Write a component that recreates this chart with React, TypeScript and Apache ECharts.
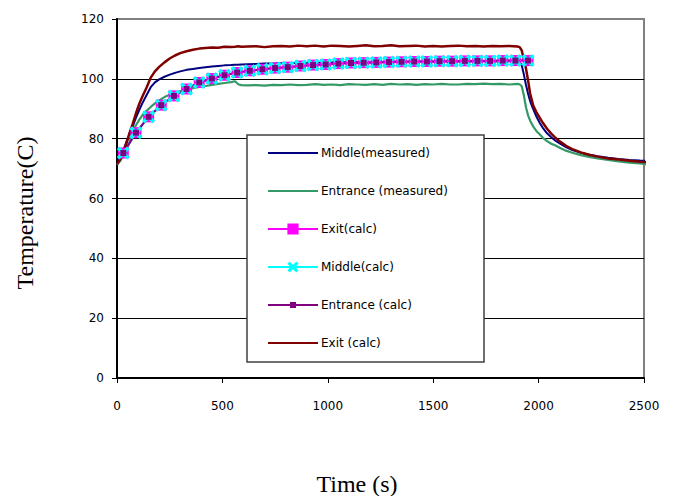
import React, { useEffect, useRef } from "react";
import * as echarts from "echarts";

// Sample times (s) of the measured traces
const measuredTimes = [
  0, 15, 30, 45, 60, 75, 90, 105, 120, 140, 160, 180, 200, 225, 250, 275, 300, 330, 360, 390,
  420, 450, 480, 510, 540, 560, 575, 590,
  620, 660, 700, 740, 780, 820, 860, 900, 940, 980, 1020, 1060, 1100, 1140, 1180, 1220, 1260,
  1300, 1340, 1380, 1420, 1460, 1500, 1540, 1580, 1620, 1660, 1700, 1740, 1780, 1820, 1860, 1900,
  1910, 1920, 1930, 1940, 1950, 1960, 1975, 1990, 2005, 2020, 2040, 2060, 2080, 2100, 2130, 2160,
  2200, 2240, 2280, 2330, 2380, 2430, 2480, 2535,
];

const middleMeasured = [
  72.0, 73.5, 76.0, 79.0, 81.5, 84.2, 87.0, 89.5, 91.8, 94.5, 97.2, 98.8, 99.8, 100.7, 101.4, 102.0,
  102.5, 103.0, 103.3, 103.6, 103.9, 104.1, 104.3, 104.5, 104.6, 104.7, 104.7, 104.8,
  104.9, 105.0, 105.1, 105.1, 105.2, 105.3, 105.3, 105.4, 105.4, 105.5, 105.5, 105.6, 105.5, 105.6,
  105.7, 105.6, 105.7, 105.7, 105.8, 105.7, 105.8, 105.8, 105.7, 105.8, 105.9, 105.8, 105.9, 105.8,
  105.9, 105.9, 105.8, 105.9, 105.9,
  105.6, 104.5, 101.5, 98.0, 95.0, 92.5, 89.8, 87.3, 85.3, 83.6, 81.8, 80.5, 79.3, 78.4, 77.2, 76.2,
  75.3, 74.6, 74.1, 73.6, 73.2, 72.9, 72.7, 72.5,
];

const entranceMeasured = [
  71.3, 72.5, 74.5, 76.7, 79.0, 82.5, 84.5, 86.3, 87.8, 89.3, 90.6, 91.8, 92.8, 93.9, 94.7, 95.3,
  95.8, 96.4, 96.9, 97.3, 97.6, 98.0, 98.3, 98.6, 98.9, 99.2, 98.2, 97.9,
  97.8, 97.9, 97.7, 98.0, 97.9, 98.1, 97.9, 98.0, 98.2, 98.0, 98.1, 97.9, 98.2, 98.1, 98.0, 98.2,
  98.0, 98.3, 98.1, 98.2, 98.0, 98.2, 98.1, 98.3, 98.1, 98.1, 98.3, 98.2, 98.4, 98.2, 98.3, 98.1,
  98.3,
  98.2, 97.5, 94.5, 90.5, 87.8, 86.0, 84.0, 82.5, 81.5, 80.3, 79.2, 78.3, 77.7, 77.0, 76.0, 75.3,
  74.5, 73.9, 73.4, 72.9, 72.4, 72.0, 71.7, 71.3,
];

const exitLine = [
  71.5, 73.0, 75.5, 78.5, 82.0, 85.0, 88.5, 91.5, 94.0, 97.0, 100.4, 102.5, 104.0, 105.5, 106.8,
  107.8, 108.6, 109.2, 109.7, 110.1, 110.3, 110.5, 110.4, 110.7, 110.6, 110.7, 110.9, 110.7,
  110.8, 110.9, 110.6, 110.9, 111.0, 110.8, 111.1, 110.9, 111.1, 110.8, 111.1, 111.0, 110.8, 111.0,
  111.2, 110.9, 111.0, 111.2, 110.9, 111.0, 111.1, 110.8, 111.0, 110.8, 111.0, 111.1, 110.9, 111.0,
  110.8, 111.0, 110.9, 111.0, 110.8,
  110.6, 109.5, 106.5, 103.5, 99.5, 95.0, 91.0, 88.8, 87.0, 85.3, 83.3, 81.7, 80.3, 79.1, 77.6, 76.5,
  75.4, 74.6, 74.0, 73.4, 73.0, 72.6, 72.3, 72.1,
];

// Calculated temperatures, one point per 60 s step
const calcTimes = [
  30, 90, 150, 210, 270, 330, 390, 450, 510, 570, 630, 690, 750, 810, 870, 930, 990, 1050, 1110,
  1170, 1230, 1290, 1350, 1410, 1470, 1530, 1590, 1650, 1710, 1770, 1830, 1890, 1950,
];

const exitCalc = [
  75.2, 82.0, 87.3, 91.2, 94.3, 96.6, 98.8, 100.1, 101.2, 102.1, 102.7, 103.2, 103.6, 103.9, 104.3,
  104.6, 104.8, 105.1, 105.3, 105.4, 105.5, 105.6, 105.7, 105.8, 105.8, 105.9, 105.9, 106.0, 106.0,
  106.0, 106.1, 106.1, 106.1,
];

const middleCalc = [
  75.2, 82.0, 87.3, 91.2, 94.3, 96.6, 98.8, 100.1, 101.2, 102.1, 102.7, 103.2, 103.6, 103.9, 104.3,
  104.6, 104.8, 105.1, 105.3, 105.4, 105.5, 105.6, 105.7, 105.8, 105.8, 105.9, 105.9, 106.0, 106.0,
  106.0, 106.1, 106.1, 106.1,
];

const entranceCalc = [
  75.2, 82.0, 87.3, 91.2, 94.3, 96.6, 98.8, 100.1, 101.2, 102.1, 102.7, 103.2, 103.6, 103.9, 104.3,
  104.6, 104.8, 105.1, 105.3, 105.4, 105.5, 105.6, 105.7, 105.8, 105.8, 105.9, 105.9, 106.0, 106.0,
  106.0, 106.1, 106.1, 106.1,
];

const seriesNames = [
  "Middle(measured)",
  "Entrance (measured)",
  "Exit(calc)",
  "Middle(calc)",
  "Entrance (calc)",
  "Exit (calc)",
];

const xTitle = "Time (s)";
const yTitle = "Temperature(C)";

// A bold "x" marker outline
const crossSymbol =
  "path://M0,2L2,0L5,3L8,0L10,2L7,5L10,8L8,10L5,7L2,10L0,8L3,5Z";

// Legend key for the small-square trace: a 50px line with a 6px square in the middle
const smallSquareKey =
  "path://M0,6L22,6L22,4L28,4L28,6L50,6L50,8L28,8L28,10L22,10L22,8L0,8Z";

// Plain traces (no markers) show only their line in the legend
const plainTraces = [seriesNames[0], seriesNames[1], seriesNames[5]];

const pair = (xs: number[], ys: number[]) => xs.map((x, i) => [x, ys[i]]);

export default function App() {
  const ref = useRef<HTMLDivElement>(null);

  useEffect(() => {
    document.body.style.margin = "0";
    if (!ref.current) return;
    const chart = echarts.init(ref.current, null, { renderer: "svg" });

    const lineSeries = (name: string, data: number[][], color: string, width: number) => ({
      name,
      type: "line",
      data,
      symbol: "none",
      clip: false,
      color,
      lineStyle: { color, width },
    });

    const markerSeries = (
      name: string,
      data: number[][],
      color: string,
      symbol: string,
      size: number
    ) => ({
      name,
      type: "line",
      data,
      symbol,
      symbolSize: size,
      showSymbol: true,
      clip: false,
      color,
      lineStyle: { color, width: 2 },
      itemStyle: { color, borderWidth: 0 },
    });

    const legendItem = (name: string) => {
      if (plainTraces.includes(name)) return { name, itemStyle: { opacity: 0 } };
      if (name === seriesNames[4]) return { name, icon: smallSquareKey };
      return { name };
    };

    chart.setOption({
      animation: false,
      grid: {
        left: 117,
        right: 31,
        top: 19,
        bottom: 118,
        show: true,
        borderColor: "#808080",
        borderWidth: 2,
        backgroundColor: "#fff",
      },
      xAxis: {
        type: "value",
        min: 0,
        max: 2500,
        interval: 500,
        axisLine: { lineStyle: { color: "#000", width: 2 } },
        axisTick: { show: true, inside: false, length: 5, lineStyle: { color: "#000", width: 1 } },
        axisLabel: {
          margin: 22,
          color: "#000",
          fontSize: 12,
          fontFamily: "DejaVu Sans",
          formatter: (v: number) => String(v),
        },
        splitLine: { show: false },
      },
      yAxis: {
        type: "value",
        min: 0,
        max: 120,
        interval: 20,
        axisLine: { show: true, lineStyle: { color: "#000", width: 2 } },
        axisTick: { show: true, inside: false, length: 5, lineStyle: { color: "#000", width: 1 } },
        axisLabel: {
          margin: 13,
          color: "#000",
          fontSize: 12,
          fontFamily: "DejaVu Sans",
          padding: [0, 0, 4, 0],
          formatter: (v: number) => String(v),
        },
        splitLine: {
          show: true,
          showMinLine: false,
          showMaxLine: false,
          lineStyle: { color: "#000", width: 1 },
        },
      },
      legend: {
        data: seriesNames.map(legendItem),
        orient: "vertical",
        left: 267,
        top: 146,
        padding: 0,
        itemWidth: 50,
        itemHeight: 14,
        itemGap: 24,
        z: 10,
        selectedMode: false,
        textStyle: {
          color: "#000",
          fontSize: 12,
          fontFamily: "DejaVu Sans",
          lineHeight: 14,
          padding: [0, 0, 0, -2],
        },
      },
      graphic: [
        {
          type: "rect",
          z: 5,
          shape: { x: 247, y: 135, width: 237, height: 227 },
          style: { fill: "#fff", stroke: "#404040", lineWidth: 1.5 },
        },
        {
          type: "text",
          x: 25,
          y: 213,
          rotation: Math.PI / 2,
          style: {
            text: yTitle,
            fill: "#000",
            font: '24px "Liberation Serif"',
            align: "center",
            verticalAlign: "middle",
          },
        },
        {
          type: "text",
          x: 357,
          y: 484,
          style: {
            text: xTitle,
            fill: "#000",
            font: '24px "Liberation Serif"',
            align: "center",
            verticalAlign: "middle",
          },
        },
      ],
      series: [
        lineSeries(seriesNames[0], pair(measuredTimes, middleMeasured), "#000080", 2),
        lineSeries(seriesNames[1], pair(measuredTimes, entranceMeasured), "#339966", 2.2),
        markerSeries(seriesNames[2], pair(calcTimes, exitCalc), "#FF00FF", "rect", 11),
        markerSeries(seriesNames[3], pair(calcTimes, middleCalc), "#00FFFF", crossSymbol, 13),
        markerSeries(seriesNames[4], pair(calcTimes, entranceCalc), "#800080", "rect", 6),
        lineSeries(seriesNames[5], pair(measuredTimes, exitLine), "#800000", 2.5),
      ],
    });

    return () => chart.dispose();
  }, []);

  return <div ref={ref} style={{ width: 675, height: 496 }} />;
}
